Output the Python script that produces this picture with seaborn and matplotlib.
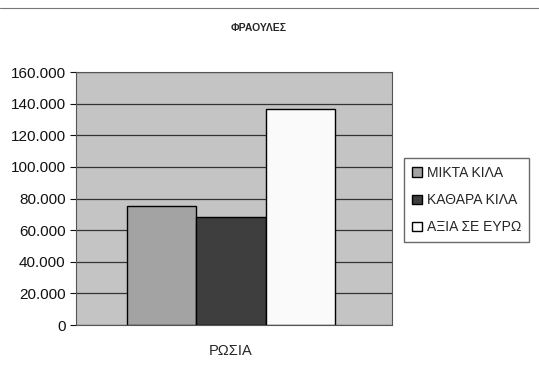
"""Strawberries chart (Russia), bar per measure

"""

import matplotlib
matplotlib.use("Agg")
import matplotlib.pyplot as plt
import pandas as pd
import seaborn as sns
from matplotlib.ticker import FuncFormatter

countries = ["ΡΩΣΙΑ"]
measures = ["ΜΙΚΤΑ ΚΙΛΑ", "ΚΑΘΑΡΑ ΚΙΛΑ", "ΑΞΙΑ ΣΕ ΕΥΡΩ"]
values = [75000, 68500, 136500]
bar_colors = ["#a3a3a3", "#3e3e3e", "#fafafa"]

df = pd.DataFrame({
    "country": countries * len(measures),
    "measure": measures,
    "value": values,
})

sns.set_style("white")
plt.rcParams["font.family"] = ["Liberation Sans", "DejaVu Sans"]

fig = plt.figure(figsize=(5.39, 3.74), dpi=100)
ax = fig.add_axes([0.141, 0.131, 0.586, 0.676])

sns.barplot(data=df, x="country", y="value", hue="measure",
    palette=bar_colors, width=0.66, edgecolor="black", linewidth=1.0,
    saturation=1, ax=ax, legend=True)

ax.set_facecolor("#c4c4c4")
ax.set_xlim(-0.49, 0.51)
ax.set_ylim(0, 160000)
ax.set_yticks(range(0, 160001, 20000))
ax.yaxis.set_major_formatter(FuncFormatter(
    lambda v, _: f"{int(v):,}".replace(",", ".")))
ax.grid(axis="y", color="#333333", linewidth=0.9)
ax.set_axisbelow(True)
ax.tick_params(axis="y", left=True, length=4, width=0.8,
    labelsize=11, colors="#111111")
ax.tick_params(axis="x", bottom=False, labelsize=10.5, pad=10)
ax.set(xlabel="", ylabel="")
for side in ax.spines.values():
    side.set_color("#555555")
    side.set_linewidth(0.8)

handles, labels = ax.get_legend_handles_labels()
ax.legend(handles, labels, loc="upper left", bbox_to_anchor=(0.737, 0.595),
    bbox_transform=fig.transFigure, frameon=True, fancybox=False,
    edgecolor="#444444", fontsize=10, handlelength=0.7, handleheight=0.7,
    handletextpad=0.4, labelspacing=0.95, borderpad=0.55)

fig.text(0.48, 0.925, "ΦΡΑΟΥΛΕΣ", ha="center", va="center",
    fontsize=7.5, fontweight="bold")
fig.add_artist(plt.Line2D([0.0, 1.0], [0.978, 0.978], color="#777777",
    linewidth=0.8, transform=fig.transFigure))

fig.savefig("out.png", dpi=100)
